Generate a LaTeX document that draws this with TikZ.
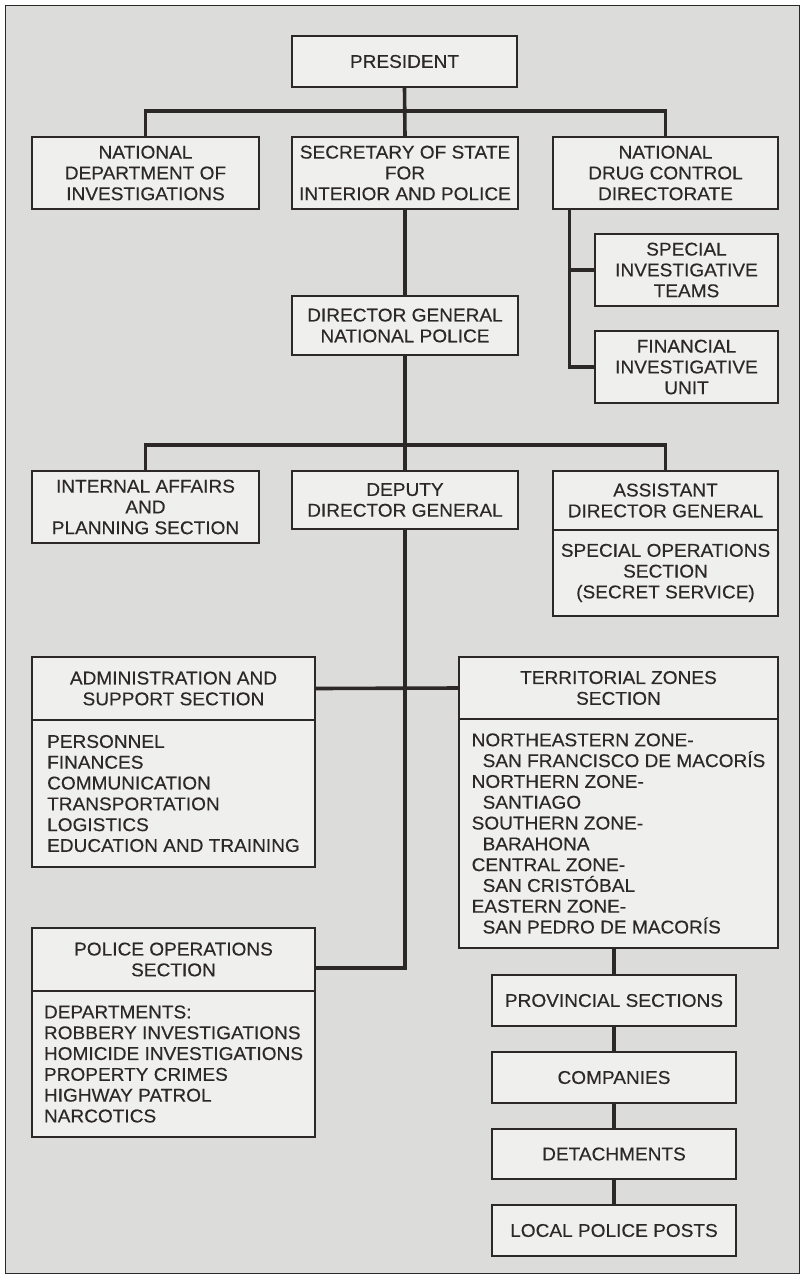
\documentclass[tikz,border=0pt]{standalone}
\usepackage{fontspec}
\setmainfont{Liberation Sans}[FakeStretch=1.03, FakeBold=0.3]
\usetikzlibrary{calc}
\definecolor{bgpaper}{RGB}{220,220,218}
\definecolor{boxfill}{RGB}{239,239,237}
\definecolor{linedark}{RGB}{45,40,40}
\tikzset{
  % boxes of the chart
  orgbox/.style  = {draw=linedark, line width=1.4pt, fill=boxfill, inner sep=0pt,
                    align=center, text=linedark, font=\fontsize{18.5}{20.8}\selectfont},
  listbox/.style = {orgbox, align=left},
  % heavy connecting lines
  conn/.style    = {draw=linedark, line width=3.6pt},
}
\newcommand{\zoneind}{\hspace*{11pt}}

\begin{document}
\begin{tikzpicture}[x=1pt, y=-1pt]
  \useasboundingbox (0,0) rectangle (803,1280);
  % paper and frame
  \draw[fill=bgpaper, draw=linedark, line width=0.8pt] (5,5) rectangle (799,1273);

  % upper part
  \node[orgbox, minimum width=225, minimum height=51] (pres) at (404.5,61.5) {PRESIDENT};
  \node[orgbox, minimum width=227, minimum height=72] (ndi) at (145.5,173) {NATIONAL\\DEPARTMENT OF\\INVESTIGATIONS};
  \node[orgbox, minimum width=226, minimum height=72] (sec) at (405,173) {SECRETARY OF STATE\\FOR\\INTERIOR AND POLICE};
  \node[orgbox, minimum width=225, minimum height=72] (ndcd) at (665.5,173) {NATIONAL\\DRUG CONTROL\\DIRECTORATE};
  \node[orgbox, minimum width=183, minimum height=72] (sit) at (686.5,270) {SPECIAL\\INVESTIGATIVE\\TEAMS};
  \node[orgbox, minimum width=183, minimum height=72] (fiu) at (686.5,367) {FINANCIAL\\INVESTIGATIVE\\UNIT};
  \node[orgbox, minimum width=226, minimum height=59] (dg) at (405,325.5) {DIRECTOR GENERAL\\NATIONAL POLICE};

  % police command
  \node[orgbox, minimum width=227, minimum height=72] (ia) at (145.5,507) {INTERNAL AFFAIRS\\AND\\PLANNING SECTION};
  \node[orgbox, minimum width=226, minimum height=58] (dep) at (405,500) {DEPUTY\\DIRECTOR GENERAL};
  \node[orgbox, minimum width=225, minimum height=59] (adg) at (665.5,500.5) {ASSISTANT\\DIRECTOR GENERAL};
  \node[orgbox, minimum width=225, minimum height=86] (adgbody) at (665.5,573) {SPECIAL OPERATIONS\\SECTION\\(SECRET SERVICE)};

  % sections
  \node[orgbox, minimum width=283, minimum height=63] (admin) at (173.5,688.5) {ADMINISTRATION AND\\SUPPORT SECTION};
  \node[listbox, minimum width=283, minimum height=147] (adminbody) at (173.5,793.5)
    {PERSONNEL\\FINANCES\\COMMUNICATION\\TRANSPORTATION\\LOGISTICS\\EDUCATION AND TRAINING};
  \node[orgbox, minimum width=319, minimum height=62] (terr) at (618.5,688) {TERRITORIAL ZONES\\SECTION};
  \node[listbox, minimum width=319, minimum height=229] (terrbody) at (618.5,833.5)
    {NORTHEASTERN ZONE-\\\zoneind SAN FRANCISCO DE MACORÍS\\NORTHERN ZONE-\\\zoneind SANTIAGO\\
     SOUTHERN ZONE-\\\zoneind BARAHONA\\CENTRAL ZONE-\\\zoneind SAN CRISTÓBAL\\
     EASTERN ZONE-\\\zoneind SAN PEDRO DE MACORÍS};
  \node[orgbox, minimum width=283, minimum height=63] (pops) at (173.5,959.5) {POLICE OPERATIONS\\SECTION};
  \node[listbox, minimum width=283, minimum height=146] (popsbody) at (173.5,1064)
    {DEPARTMENTS:\\ROBBERY INVESTIGATIONS\\HOMICIDE INVESTIGATIONS\\PROPERTY CRIMES\\HIGHWAY PATROL\\NARCOTICS};

  % territorial chain
  \node[orgbox, minimum width=244, minimum height=51] (prov) at (614,1000.5) {PROVINCIAL SECTIONS};
  \node[orgbox, minimum width=244, minimum height=51] (comp) at (614,1077.5) {COMPANIES};
  \node[orgbox, minimum width=244, minimum height=50] (det) at (614,1154) {DETACHMENTS};
  \node[orgbox, minimum width=244, minimum height=51] (lpp) at (614,1230.5) {LOCAL POLICE POSTS};

  % connectors
  \coordinate (bus1) at (405,111);
  \coordinate (bus2) at (405,445);
  \coordinate (ndfoot) at ($(ndcd.south west)+(17,0)$);
  \draw[conn] (pres.south) -- (sec.north);
  \draw[conn] (ndi.north) |- (bus1) -| (ndcd.north);
  \draw[conn] (sec.south) -- (dg.north);
  \draw[conn] (ndfoot) |- (fiu.west);
  \draw[conn] (ndfoot |- sit.west) -- (sit.west);
  \draw[conn] (dg.south) -- (dep.north);
  \draw[conn] (ia.north) |- (bus2) -| (adg.north);
  \draw[conn] (dep.south) |- ($(pops.east)+(0,8.5)$);
  \draw[conn] (admin.east) -- (terr.west);
  \draw[conn] (prov.north |- terrbody.south) -- (prov.north);
  \draw[conn] (prov.south) -- (comp.north);
  \draw[conn] (comp.south) -- (det.north);
  \draw[conn] (det.south) -- (lpp.north);
\end{tikzpicture}
\end{document}
